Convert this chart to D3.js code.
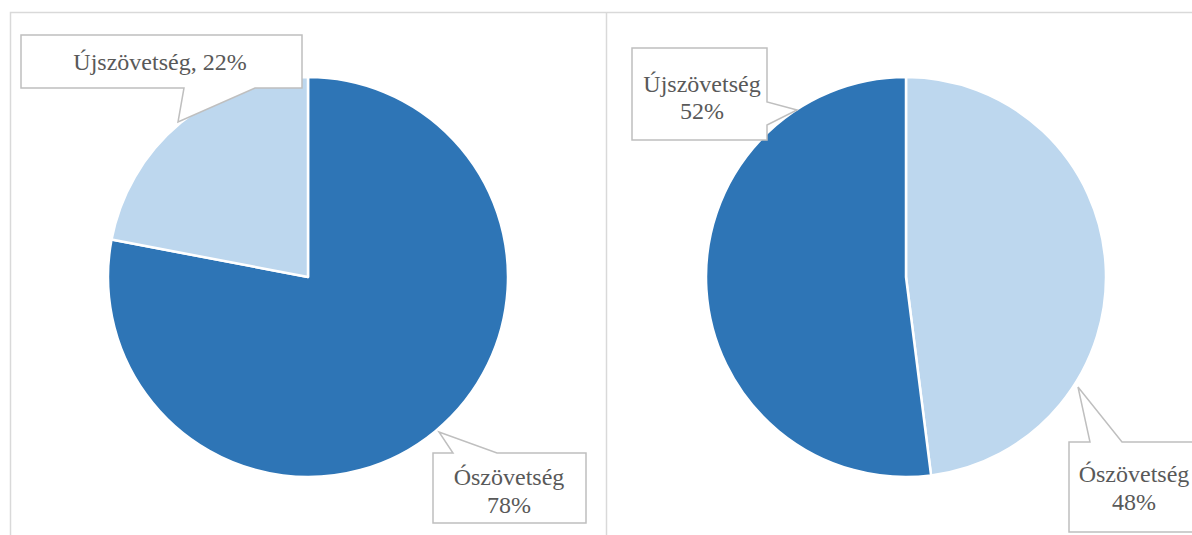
<!DOCTYPE html>
<html><head><meta charset="utf-8">
<script src="https://cdn.jsdelivr.net/npm/d3@7"></script>
<style>html,body{margin:0;padding:0;background:#fff;overflow:hidden}</style>
</head><body>
<svg id="c" width="1192" height="535"></svg>
<script>
const categories = ["Ószövetség", "Újszövetség"];
const leftValues = [78, 22];
const rightValues = [48, 52];
const leftColors = ["#2E75B6", "#BDD7EE"];
const rightColors = ["#BDD7EE", "#2E75B6"];
const leftLabels = ["Ószövetség\n78%", "Újszövetség, 22%"];
const rightLabels = ["Ószövetség\n48%", "Újszövetség\n52%"];

const svg = d3.select("#c");
// frame
const frame = svg.append("g").attr("stroke", "#d9d9d9").attr("stroke-width", 1.5).attr("fill", "none");
frame.append("path").attr("d", "M10.5,540 V12.5 H1200");
frame.append("path").attr("d", "M606.5,12.5 V540");

const pie = d3.pie().sort(null).value(d => d.v).startAngle(0).endAngle(2 * Math.PI);
const arc = d3.arc().innerRadius(0).outerRadius(200);

function drawPie(cx, cy, values, colors) {
  const data = categories.map((c, i) => ({ c, v: values[i], col: colors[i] }));
  const g = svg.append("g").attr("transform", `translate(${cx},${cy})`);
  g.selectAll("path").data(pie(data)).join("path")
    .attr("d", arc).attr("fill", d => d.data.col)
    .attr("stroke", "#fff").attr("stroke-width", 2.5).attr("stroke-linejoin", "round");
}
drawPie(308, 277, leftValues, leftColors);
drawPie(906, 277, rightValues, rightColors);

// callouts
function callout(box, ptr, text, tx, ty, lh) {
  const [x0, y0, x1, y1] = box;
  let pts;
  if (ptr.side === "bottom") {
    pts = [[x0, y0], [x1, y0], [x1, y1], [ptr.b2, y1], ptr.tip, [ptr.b1, y1], [x0, y1]];
  } else if (ptr.side === "top") {
    pts = [[x0, y0], [ptr.b1, y0], ptr.tip, [ptr.b2, y0], [x1, y0], [x1, y1], [x0, y1]];
  } else if (ptr.side === "right") {
    pts = [[x0, y0], [x1, y0], [x1, ptr.b1], ptr.tip, [x1, ptr.b2], [x1, y1], [x0, y1]];
  }
  svg.append("path").attr("d", "M" + pts.map(p => p.join(",")).join("L") + "Z")
    .attr("fill", "#fff").attr("stroke", "#bfbfbf").attr("stroke-width", 1.5);
  const lines = text.split("\n");
  const t = svg.append("text").attr("text-anchor", "middle")
    .attr("font-family", "'Liberation Serif','Times New Roman',serif")
    .attr("font-size", 24).attr("fill", "#595959");
  lines.forEach((l, i) => t.append("tspan").attr("x", tx).attr("y", ty + i * lh).text(l));
}
callout([21, 35, 302, 88], { side: "bottom", b1: 184, b2: 255, tip: [178, 122] }, leftLabels[1], 160, 70, 28);
callout([433, 453, 586, 523], { side: "top", b1: 453, b2: 497, tip: [439, 432] }, leftLabels[0], 509, 485, 28);
callout([632, 48, 767, 140], { side: "right", b1: 102, b2: 125, tip: [797, 110] }, rightLabels[1], 702, 92, 27);
callout([1069, 442, 1205, 532], { side: "top", b1: 1090, b2: 1122, tip: [1078, 387] }, rightLabels[0], 1134, 482, 28);
</script>
</body></html>
